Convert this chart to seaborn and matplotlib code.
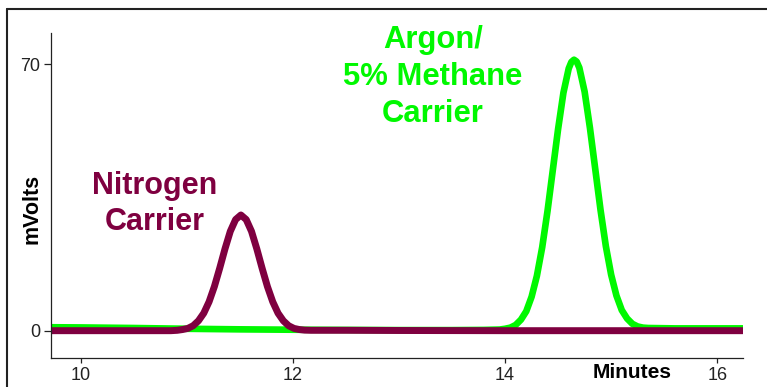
import matplotlib
matplotlib.use("Agg")
import matplotlib.pyplot as plt
from matplotlib.lines import Line2D
import pandas as pd
import seaborn as sns

# Chromatogram traces (retention time in minutes, detector signal in mV)
n2_time = [9.72, 10.0, 10.5, 10.85, 10.91, 10.96, 11.01, 11.06, 11.11, 11.16,
           11.21, 11.26, 11.31, 11.36, 11.41, 11.46, 11.51, 11.56, 11.61, 11.66,
           11.71, 11.76, 11.81, 11.86, 11.91, 11.96, 12.01, 12.06, 12.11, 12.17,
           12.5, 13.0, 14.0, 15.0, 16.24]
n2_mv = [0, 0, 0, 0, 0.1, 0.3, 0.6, 1.3, 2.6, 4.6,
         7.6, 11.6, 16.4, 21.5, 26.1, 29.2, 30.4, 29.2, 26.1, 21.5,
         16.4, 11.6, 7.6, 4.6, 2.6, 1.3, 0.6, 0.3, 0.15, 0.1,
         0.1, 0.05, 0, 0, 0]

ar_time = [9.72, 10.0, 10.5, 11.0, 11.5, 12.0, 12.5, 13.0, 13.5, 13.8,
           13.95, 14.0, 14.05, 14.10, 14.15, 14.20, 14.25, 14.30, 14.35, 14.40,
           14.45, 14.50, 14.55, 14.60, 14.625, 14.65, 14.675, 14.70, 14.75, 14.80,
           14.85, 14.90, 14.95, 15.00, 15.05, 15.10, 15.15, 15.20, 15.25, 15.30,
           15.35, 15.6, 16.0, 16.24]
ar_mv = [0.9, 0.85, 0.7, 0.5, 0.35, 0.25, 0.2, 0.15, 0.15, 0.2,
         0.3, 0.5, 0.8, 1.5, 2.9, 5.1, 8.9, 14.4, 21.9, 31.4,
         42.2, 53.0, 62.5, 68.9, 70.6, 71.2, 70.7, 69.1, 62.8, 53.3,
         42.5, 31.7, 22.2, 14.7, 9.2, 5.4, 3.2, 1.8, 1.1, 0.8,
         0.7, 0.6, 0.6, 0.6]

x_ticks = [10, 12, 14, 16]
y_ticks = [0, 70]

n2_label = ["Nitrogen", "Carrier"]
ar_label = ["Argon/", "5% Methane", "Carrier"]

MAROON = "#7f0040"
GREEN = "#00f800"

sns.set_style("ticks")
plt.rcParams["font.family"] = ["Liberation Sans", "DejaVu Sans"]

n2 = pd.DataFrame({"time": n2_time, "mV": n2_mv})
ar = pd.DataFrame({"time": ar_time, "mV": ar_mv})

W, H = 767, 387
fig = plt.figure(figsize=(W / 100, H / 100), dpi=100)
ax = fig.add_axes([51 / W, 1 - 357.7 / H, (742.7 - 51) / W, (357.7 - 32.7) / H])

sns.lineplot(data=ar, x="time", y="mV", color=GREEN, lw=4.8, ax=ax,
             solid_joinstyle="round")
sns.lineplot(data=n2, x="time", y="mV", color=MAROON, lw=5.0, ax=ax,
             solid_joinstyle="round")

ax.set_xlim(9.72, 16.24)
ax.set_ylim(-7.1, 78.3)
ax.set_xticks(x_ticks)
ax.set_yticks(y_ticks)
ax.set_xlabel("")
ax.set_ylabel("")
sns.despine(ax=ax)
for s in ("left", "bottom"):
    ax.spines[s].set_linewidth(0.9)
    ax.spines[s].set_color("#222222")
ax.tick_params(axis="x", length=3.5, width=0.9, pad=3, labelsize=13,
               colors="#222222")
ax.tick_params(axis="y", length=5, width=0.9, pad=3, labelsize=13,
               colors="#222222")

# Axis titles
fig.text(32 / W, 1 - 209 / H, "mVolts", rotation=90, ha="center", va="center",
         fontsize=15.5, fontweight="bold", color="black")
fig.text(631.7 / W, 1 - 373 / H, "Minutes", ha="center", va="center",
         fontsize=15, fontweight="bold", color="black")

# Peak annotations
for line, base in zip(n2_label, [194, 230]):
    fig.text(155 / W, 1 - base / H, line, ha="center", va="baseline",
             fontsize=22, fontweight="bold", color=MAROON)
for line, base in zip(ar_label, [47.7, 85, 121.7]):
    fig.text(433 / W, 1 - base / H, line, ha="center", va="baseline",
             fontsize=22.3, fontweight="bold", color=GREEN)

# Outer frame (top and left edges)
fig.add_artist(Line2D([7 / W, 7 / W], [-0.05, 1 - 8.5 / H], transform=fig.transFigure,
                      color="#222222", lw=1.5))
fig.add_artist(Line2D([7 / W, 1.05], [1 - 8.5 / H, 1 - 8.5 / H],
                      transform=fig.transFigure, color="#222222", lw=1.5))

fig.savefig("out.png", dpi=100)
